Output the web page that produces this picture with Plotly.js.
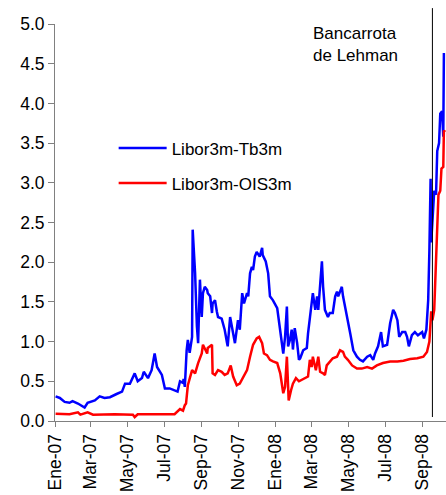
<!DOCTYPE html>
<html>
<head>
<meta charset="utf-8">
<script src="https://cdn.plot.ly/plotly-3.0.1.min.js"></script>
<style>html,body{margin:0;padding:0;background:#fff;}#chart{width:446px;height:495px;}</style>
</head>
<body>
<div id="chart"></div>
<script>
const blueDates = ["2007-01-02","2007-01-09","2007-01-17","2007-01-25","2007-01-30","2007-02-08","2007-02-19","2007-02-24","2007-03-08","2007-03-16","2007-03-24","2007-04-02","2007-04-13","2007-04-22","2007-04-27","2007-05-05","2007-05-13","2007-05-18","2007-05-25","2007-05-28","2007-06-04","2007-06-10","2007-06-15","2007-06-19","2007-06-27","2007-07-02","2007-07-10","2007-07-18","2007-07-23","2007-07-27","2007-08-01","2007-08-02","2007-08-04","2007-08-07","2007-08-09","2007-08-12","2007-08-16","2007-08-17","2007-08-21","2007-08-24","2007-08-26","2007-08-29","2007-09-01","2007-09-03","2007-09-06","2007-09-10","2007-09-11","2007-09-15","2007-09-18","2007-09-19","2007-09-23","2007-09-26","2007-09-28","2007-10-04","2007-10-09","2007-10-13","2007-10-14","2007-10-18","2007-10-21","2007-10-23","2007-10-26","2007-10-31","2007-11-03","2007-11-07","2007-11-10","2007-11-15","2007-11-17","2007-11-20","2007-11-23","2007-11-25","2007-11-28","2007-12-01","2007-12-06","2007-12-10","2007-12-11","2007-12-16","2007-12-20","2007-12-23","2007-12-28","2008-01-04","2008-01-09","2008-01-14","2008-01-17","2008-01-20","2008-01-22","2008-01-25","2008-01-28","2008-01-30","2008-02-02","2008-02-06","2008-02-09","2008-02-11","2008-02-16","2008-02-22","2008-02-24","2008-02-27","2008-03-03","2008-03-07","2008-03-10","2008-03-12","2008-03-18","2008-03-20","2008-03-23","2008-03-28","2008-03-31","2008-04-05","2008-04-09","2008-04-12","2008-04-14","2008-04-17","2008-04-20","2008-04-22","2008-04-29","2008-05-04","2008-05-09","2008-05-15","2008-05-20","2008-05-25","2008-06-01","2008-06-06","2008-06-11","2008-06-14","2008-06-19","2008-06-24","2008-06-27","2008-07-04","2008-07-09","2008-07-14","2008-07-17","2008-07-21","2008-07-24","2008-07-29","2008-08-03","2008-08-06","2008-08-09","2008-08-14","2008-08-19","2008-08-24","2008-08-31","2008-09-03","2008-09-07","2008-09-10","2008-09-12","2008-09-14","2008-09-15","2008-09-17","2008-09-20","2008-09-23","2008-09-25","2008-09-28","2008-09-30","2008-10-03","2008-10-05","2008-10-06","2008-10-08"];
const libTb3m = [0.31,0.29,0.24,0.23,0.25,0.22,0.17,0.23,0.26,0.31,0.29,0.30,0.34,0.37,0.47,0.47,0.60,0.50,0.54,0.62,0.54,0.64,0.85,0.68,0.58,0.41,0.41,0.39,0.37,0.50,0.48,0.53,0.43,0.89,1.02,0.86,1.06,2.41,1.86,1.19,0.98,1.78,1.31,1.61,1.69,1.65,1.61,1.57,1.36,1.48,1.52,1.38,1.31,1.29,1.15,0.98,0.94,1.31,1.19,1.10,0.98,1.27,1.15,1.61,1.48,1.61,1.57,1.86,1.94,1.90,2.07,2.13,2.07,2.18,2.09,2.01,1.86,1.57,1.52,1.42,1.15,0.85,1.06,1.44,0.94,1.02,1.15,0.90,1.17,0.98,0.77,0.79,0.89,0.92,1.10,1.31,1.61,1.40,1.57,1.40,2.01,1.69,1.40,1.31,1.36,1.36,1.57,1.63,1.57,1.63,1.69,1.57,1.31,1.10,0.89,0.81,0.77,0.75,0.81,0.83,0.77,0.85,0.94,1.12,0.94,0.96,1.23,1.40,1.36,1.27,1.06,1.12,1.12,1.06,0.94,1.08,1.12,1.08,1.12,1.04,1.15,1.52,2.15,3.05,2.25,2.50,2.90,2.85,3.40,3.50,3.87,3.90,3.58,4.62,4.62];

const redDates = ["2007-01-02","2007-01-25","2007-02-08","2007-02-12","2007-02-24","2007-03-05","2007-04-10","2007-05-10","2007-05-13","2007-05-18","2007-06-20","2007-07-18","2007-07-27","2007-08-01","2007-08-04","2007-08-06","2007-08-09","2007-08-12","2007-08-16","2007-08-21","2007-08-26","2007-09-01","2007-09-03","2007-09-10","2007-09-11","2007-09-18","2007-09-19","2007-09-23","2007-09-28","2007-10-04","2007-10-09","2007-10-14","2007-10-19","2007-10-23","2007-10-29","2007-11-03","2007-11-09","2007-11-15","2007-11-20","2007-11-25","2007-12-01","2007-12-05","2007-12-10","2007-12-13","2007-12-18","2007-12-23","2007-12-28","2008-01-04","2008-01-09","2008-01-14","2008-01-17","2008-01-20","2008-01-23","2008-01-25","2008-01-27","2008-01-30","2008-02-04","2008-02-09","2008-02-19","2008-02-24","2008-02-27","2008-03-01","2008-03-03","2008-03-08","2008-03-12","2008-03-15","2008-03-20","2008-03-23","2008-03-26","2008-03-31","2008-04-05","2008-04-12","2008-04-17","2008-04-22","2008-04-25","2008-04-30","2008-05-07","2008-05-15","2008-05-23","2008-06-01","2008-06-09","2008-06-17","2008-06-27","2008-07-09","2008-07-21","2008-07-31","2008-08-11","2008-08-23","2008-09-02","2008-09-08","2008-09-12","2008-09-15","2008-09-17","2008-09-20","2008-09-22","2008-09-23","2008-09-25","2008-09-27","2008-09-30","2008-10-02","2008-10-05","2008-10-06","2008-10-08"];
const libOis3m = [0.09,0.085,0.11,0.08,0.11,0.08,0.085,0.08,0.05,0.085,0.085,0.085,0.15,0.13,0.20,0.22,0.45,0.52,0.64,0.60,0.73,0.85,0.96,0.85,0.92,0.96,0.60,0.58,0.64,0.62,0.58,0.60,0.70,0.56,0.45,0.47,0.56,0.64,0.81,0.96,1.04,1.06,0.98,0.85,0.83,0.77,0.75,0.73,0.60,0.35,0.43,0.81,0.26,0.35,0.39,0.47,0.54,0.50,0.54,0.56,0.77,0.68,0.81,0.64,0.81,0.62,0.60,0.58,0.70,0.75,0.79,0.81,0.89,0.87,0.81,0.77,0.70,0.66,0.66,0.68,0.66,0.70,0.73,0.75,0.75,0.76,0.78,0.79,0.81,0.87,1.00,1.38,1.27,1.40,1.80,2.20,2.35,2.85,2.90,3.18,3.20,3.66,3.64];

const tickDates = ["2007-01-01","2007-03-01","2007-05-01","2007-07-01","2007-09-01","2007-11-01","2008-01-01","2008-03-01","2008-05-01","2008-07-01","2008-09-01"];
const tickLabels = ["Ene-07","Mar-07","May-07","Jul-07","Sep-07","Nov-07","Ene-08","Mar-08","May-08","Jul-08","Sep-08"];
const seriesNames = ["Libor3m-Tb3m","Libor3m-OIS3m"];
const lehmanDate = "2008-09-17";
const lehmanText = "Bancarrota<br>de Lehman";

const FONT = "Arial, 'Liberation Sans', sans-serif";

const traces = [
  {x: blueDates, y: libTb3m, type: "scatter", mode: "lines", name: seriesNames[0],
   line: {color: "#0000FF", width: 2.5}, legendgroup: "a"},
  {x: redDates, y: libOis3m, type: "scatter", mode: "lines", name: seriesNames[1],
   line: {color: "#FF0000", width: 2.5}, legendgroup: "b"}
];

const layout = {
  width: 446, height: 495,
  margin: {l: 55, r: 0, t: 24, b: 74},
  paper_bgcolor: "#fff", plot_bgcolor: "#fff",
  font: {family: FONT, size: 17, color: "#000"},
  showlegend: true,
  legend: {x: 0.15, y: 0.732, xanchor: "left", yanchor: "top", bgcolor: "rgba(0,0,0,0)",
           font: {family: FONT, size: 17, color: "#000"}, traceorder: "grouped",
           tracegroupgap: 10, itemwidth: 48},
  xaxis: {type: "date", range: ["2007-01-01", "2008-10-09 12:00"],
          tickmode: "array", tickvals: tickDates, ticktext: tickLabels, tickangle: -90,
          ticks: "outside", ticklen: 5, tickcolor: "#808080", tickwidth: 1,
          showline: true, linecolor: "#808080", linewidth: 1, showgrid: false, zeroline: false,
          tickfont: {family: FONT, size: 17.5, color: "#000"}},
  yaxis: {range: [0, 5], dtick: 0.5, tick0: 0, tickformat: ".1f",
          ticks: "outside", ticklen: 6, tickcolor: "#808080", tickwidth: 1,
          showline: true, linecolor: "#808080", linewidth: 1, showgrid: false, zeroline: false,
          tickfont: {family: FONT, size: 17.5, color: "#000"}},
  shapes: [{type: "line", xref: "x", yref: "paper", x0: lehmanDate, x1: lehmanDate,
            y0: 0.01, y1: 1.04, line: {color: "#000", width: 1}}],
  annotations: [{xref: "paper", yref: "paper", x: 0.655, y: 1.005, xanchor: "left", yanchor: "top",
                 align: "left", showarrow: false, text: lehmanText,
                 font: {family: FONT, size: 17, color: "#000"}}]
};

Plotly.newPlot("chart", traces, layout, {displayModeBar: false, staticPlot: true});
</script>
</body>
</html>
